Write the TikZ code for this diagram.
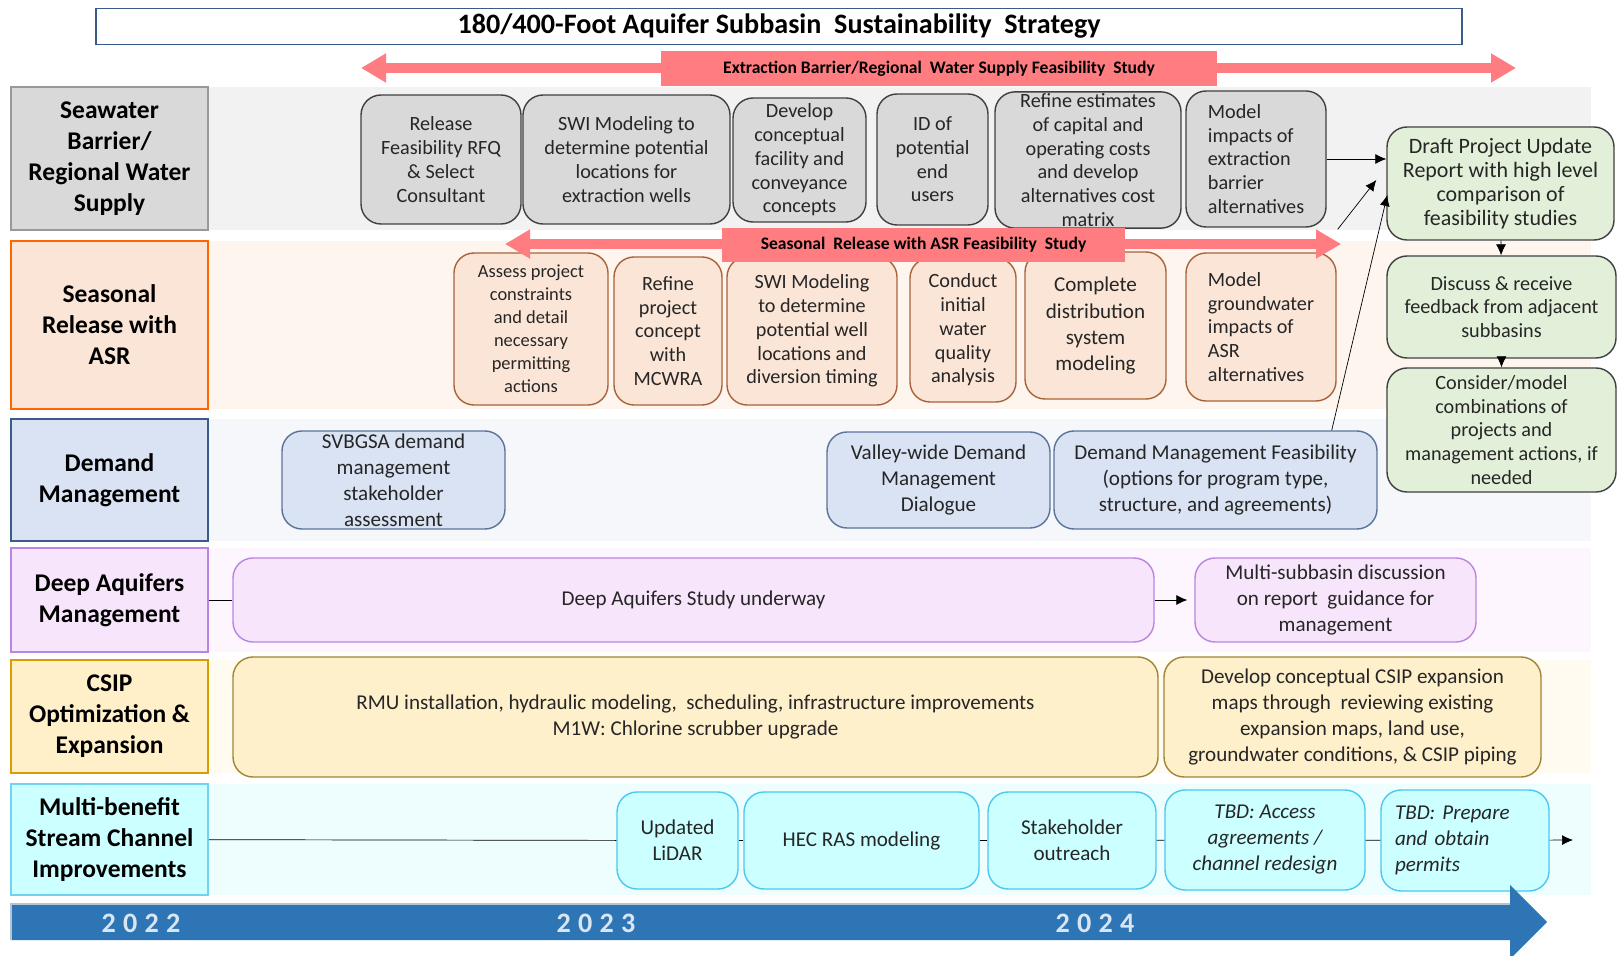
\documentclass[tikz,border=0pt]{standalone}
\usepackage{fontspec}
\setmainfont{Carlito}
\usetikzlibrary{positioning, arrows.meta, calc}
\definecolor{swfill}{HTML}{D9D9D9}
\definecolor{swband}{HTML}{F2F2F2}
\definecolor{srfill}{HTML}{FBE5D6}
\definecolor{srline}{HTML}{A9633A}
\definecolor{srband}{HTML}{FEF5EF}
\definecolor{dmfill}{HTML}{DAE3F3}
\definecolor{dmline}{HTML}{5B739B}
\definecolor{dmband}{HTML}{F5F7FB}
\definecolor{dafill}{HTML}{F7E5FB}
\definecolor{daline}{HTML}{BA85E0}
\definecolor{daband}{HTML}{FDF6FE}
\definecolor{csfill}{HTML}{FFF0CC}
\definecolor{cslane}{HTML}{FFF0C9}
\definecolor{csline}{HTML}{A08534}
\definecolor{csband}{HTML}{FFFBF0}
\definecolor{mbfill}{HTML}{CCFFFF}
\definecolor{mbline}{HTML}{4CC8F0}
\definecolor{mbband}{HTML}{EEFEFF}
\definecolor{grfill}{HTML}{E2F0D9}
\definecolor{studyred}{HTML}{FF7C80}
\definecolor{timeblue}{HTML}{2E75B6}
\definecolor{titleline}{HTML}{3B5A8C}
\tikzset{
>={Latex[width=2mm,length=2.2mm]},
every node/.append style={align=center, text=black!85},
small/.style={font=\fontsize{11.5}{13.5}\selectfont\frenchspacing},
large/.style={font=\fontsize{12}{14.8}\selectfont\frenchspacing},
lane/.style={draw, line width=0.9pt, font=\fontsize{14.5}{17.6}\selectfont\bfseries, text=black,
    minimum width=3.94cm},
task/.style={draw, rounded corners=0.4cm, line width=0.8pt, inner sep=1pt},
swtask/.style={task, small, fill=swfill, draw=black!75},
srtask/.style={task, small, fill=srfill, draw=srline},
dmtask/.style={task, large, fill=dmfill, draw=dmline},
datask/.style={task, large, fill=dafill, draw=daline},
cstask/.style={task, large, fill=csfill, draw=csline},
mbtask/.style={task, large, fill=mbfill, draw=mbline},
grtask/.style={task, small, fill=grfill, draw=black!75},
study/.style={fill=studyred, font=\fontsize{10}{11}\selectfont\bfseries, text=black, inner sep=0pt},
studyarrow/.style={studyred, line width=5.5pt, {Triangle[length=0.5cm,width=0.55cm]}-{Triangle[length=0.5cm,width=0.55cm]}},
year/.style={font=\fontsize{16}{16}\selectfont\bfseries\addfontfeature{LetterSpace=26}, text=white!82!timeblue},
}

\begin{document}
\begin{tikzpicture}
\useasboundingbox (0,0) rectangle (32.34,-19.12);

% lane backgrounds
\fill[swband] (4.16,-1.74) rectangle (31.82,-4.60);
\fill[srband] (4.16,-4.82) rectangle (31.82,-8.18);
\fill[dmband] (4.16,-8.38) rectangle (31.82,-10.82);
\fill[daband] (4.16,-10.96) rectangle (31.82,-13.04);
\fill[csband] (4.16,-13.20) rectangle (31.82,-15.46);
\fill[mbband] (4.16,-15.68) rectangle (31.82,-17.90);

% title
\node[draw=titleline, line width=0.9pt, minimum width=27.32cm, minimum height=0.70cm,
    font=\fontsize{16}{18}\selectfont\bfseries, text=black] (title) at (15.58,-0.53)
    {180/400-Foot Aquifer Subbasin \ Sustainability \ Strategy};

% lanes
\node[lane, fill=swfill, draw=black!40, minimum height=2.86cm] (l1) at (2.19,-3.17) {Seawater\\Barrier/\\Regional Water\\Supply};
\node[lane, fill=srfill, draw=orange!80!red, minimum height=3.36cm] (l2) at (2.19,-6.50) {Seasonal\\Release with\\ASR};
\node[lane, fill=dmfill, draw=titleline, minimum height=2.44cm] (l3) at (2.19,-9.60) {Demand\\Management};
\node[lane, fill=dafill, draw=daline, minimum height=2.08cm] (l4) at (2.19,-12.00) {Deep Aquifers\\Management};
\node[lane, fill=cslane, draw=orange!55!yellow!85!black, minimum height=2.26cm] (l5) at (2.19,-14.33) {CSIP\\Optimization \&\\Expansion};
\node[lane, fill=mbfill, draw=mbline!80, minimum height=2.22cm] (l6) at (2.19,-16.79) {Multi-benefit\\Stream Channel\\Improvements};

% Seawater Barrier tasks
\node[swtask, minimum width=3.20cm, minimum height=2.58cm] (sw1) at (8.82,-3.19) {Release\\Feasibility RFQ\\\& Select\\Consultant};
\node[swtask, minimum width=4.14cm, minimum height=2.58cm] (sw2) at (12.53,-3.19) {SWI Modeling to\\determine potential\\locations for\\extraction wells};
\node[swtask, minimum width=2.66cm, minimum height=2.48cm] (sw3) at (15.99,-3.20) {Develop\\conceptual\\facility and\\conveyance\\concepts};
\node[swtask, minimum width=2.22cm, minimum height=2.62cm] (sw4) at (18.65,-3.19) {ID of\\potential\\end\\users};
\node[swtask, minimum width=3.72cm, minimum height=2.68cm] (sw5) at (21.76,-3.20) {Refine estimates\\of capital and\\operating costs\\and develop\\alternatives cost\\matrix};
\node[swtask, minimum width=2.80cm, minimum height=2.72cm, align=left] (sw6) at (25.12,-3.18) {Model\\impacts of\\extraction\\barrier\\alternatives};

% Seasonal Release tasks
\node[srtask, minimum width=3.08cm, minimum height=3.04cm, font=\fontsize{10.5}{13.1}\selectfont] (sr1) at (10.62,-6.58) {Assess project\\constraints\\and detail\\necessary\\permitting\\actions};
\node[srtask, minimum width=2.16cm, minimum height=2.96cm] (sr2) at (13.36,-6.62) {Refine\\project\\concept\\with\\MCWRA};
\node[srtask, minimum width=3.40cm, minimum height=2.96cm] (sr3) at (16.24,-6.62) {SWI Modeling\\to determine\\potential well\\locations and\\diversion timing};
\node[srtask, minimum width=2.12cm, minimum height=2.88cm] (sr4) at (19.26,-6.60) {Conduct\\initial\\water\\quality\\analysis};
\node[srtask, minimum width=2.82cm, minimum height=2.94cm, large] (sr5) at (21.91,-6.51) {Complete\\distribution\\system\\modeling};
\node[srtask, minimum width=3.00cm, minimum height=2.96cm, align=left] (sr6) at (25.22,-6.54) {Model\\groundwater\\impacts of\\ASR\\alternatives};

% feasibility studies
\coordinate (xbL) at (7.22,-1.36);
\coordinate (xbR) at (30.32,-1.36);
\draw[studyarrow] (xbL) -- (xbR);
\node[study, minimum width=11.12cm, minimum height=0.70cm] (xb) at (18.78,-1.37) {Extraction Barrier/Regional \ Water Supply Feasibility \ Study};
\coordinate (srL) at (10.10,-4.88);
\coordinate (srR) at (26.82,-4.88);
\draw[studyarrow] (srL) -- (srR);
\node[study, minimum width=8.06cm, minimum height=0.68cm] (srs) at (18.47,-4.90) {Seasonal \ Release with ASR Feasibility \ Study};

% Demand Management tasks
\node[dmtask, minimum width=4.46cm, minimum height=1.96cm] (dm1) at (7.87,-9.60) {SVBGSA demand\\management\\stakeholder\\assessment};
\node[dmtask, minimum width=4.46cm, minimum height=1.92cm] (dm2) at (18.77,-9.60) {Valley-wide Demand\\Management\\Dialogue};
\node[dmtask, minimum width=6.46cm, minimum height=1.96cm] (dm3) at (24.31,-9.60) {Demand Management Feasibility\\(options for program type,\\structure, and agreements)};

% project update
\node[grtask, minimum width=4.54cm, minimum height=2.26cm, font=\fontsize{12.5}{13.6}\selectfont] (g1) at (30.01,-3.67) {Draft Project Update\\Report with high level\\comparison of\\feasibility studies};
\node[grtask, minimum width=4.58cm, minimum height=2.04cm] (g2) at (30.03,-6.14) {Discuss \& receive\\feedback from adjacent\\subbasins};
\node[grtask, minimum width=4.58cm, minimum height=2.48cm] (g3) at (30.03,-8.60) {Consider/model\\combinations of\\projects and\\management actions, if\\needed};
\draw[->] (sw6.east) -- (sw6.east -| g1.west);
\draw[->] ($(sr6.north east)+(0.02,0.46)$) -- ($(g1.west)+(-0.2,0.07)$);
\draw[->] ($(dm3.north east)+(-0.92,0)$) -- ($(g1.west)+(0.02,-0.23)$);
\draw[->] (g1) -- (g2);
\draw[->] (g2) -- (g3);

% Deep Aquifers tasks
\node[datask, minimum width=18.42cm, minimum height=1.68cm] (da1) at (13.87,-12.00) {Deep Aquifers Study underway};
\node[datask, minimum width=5.62cm, minimum height=1.68cm] (da2) at (26.71,-12.00) {Multi-subbasin discussion\\on report \ guidance for\\management};
\draw (l4) -- (da1);
\draw[->] (da1) -- ($(da2.west)+(-0.14,0)$);

% CSIP tasks
\node[cstask, minimum width=18.50cm, minimum height=2.40cm] (cs1) at (13.91,-14.34) {RMU installation, hydraulic modeling, \ scheduling, infrastructure improvements\\M1W: Chlorine scrubber upgrade};
\node[cstask, minimum width=7.54cm, minimum height=2.40cm] (cs2) at (27.05,-14.34) {Develop conceptual CSIP expansion\\maps through \ reviewing existing\\expansion maps, land use,\\groundwater conditions, \& CSIP piping};

% Stream Channel tasks
\node[mbtask, minimum width=2.42cm, minimum height=1.94cm] (mb1) at (13.55,-16.81) {Updated\\LiDAR};
\node[mbtask, minimum width=4.70cm, minimum height=1.94cm] (mb2) at (17.23,-16.81) {HEC RAS modeling};
\node[mbtask, minimum width=3.36cm, minimum height=1.94cm] (mb3) at (21.44,-16.81) {Stakeholder\\outreach};
\node[mbtask, minimum width=4.00cm, minimum height=2.00cm, font=\fontsize{12}{14.8}\selectfont\itshape\frenchspacing] (mb4) at (25.30,-16.80) {TBD: Access\\agreements /\\channel redesign};
\node[mbtask, minimum width=3.36cm, minimum height=2.02cm, font=\fontsize{12}{14.8}\selectfont\itshape\frenchspacing, align=left, text width=2.8cm] (mb5) at (29.30,-16.81) {TBD: Prepare\\and obtain\\permits};
\coordinate (mbend) at (31.46,-16.80);
\draw (l6) -- (mb1);
\draw (mb1) -- (mb2);
\draw (mb2) -- (mb3);
\draw (mb3) -- (mb4);
\draw (mb4) -- (mb5);
\draw[->] (mb5) -- (mbend);

% timeline
\fill[timeblue] (0.22,-18.08) -- (30.20,-18.08) -- (30.20,-17.70) -- (30.94,-18.44)
    -- (30.20,-19.18) -- (30.20,-18.80) -- (0.22,-18.80) -- cycle;
\draw[white!70!timeblue!80!gray, line width=0.6pt] (0.22,-18.80) -- (0.22,-18.08) -- (30.20,-18.08);
\node[year] (y22) at (2.82,-18.46) {2022};
\node[year] (y23) at (11.92,-18.46) {2023};
\node[year] (y24) at (21.90,-18.46) {2024};
\end{tikzpicture}
\end{document}
